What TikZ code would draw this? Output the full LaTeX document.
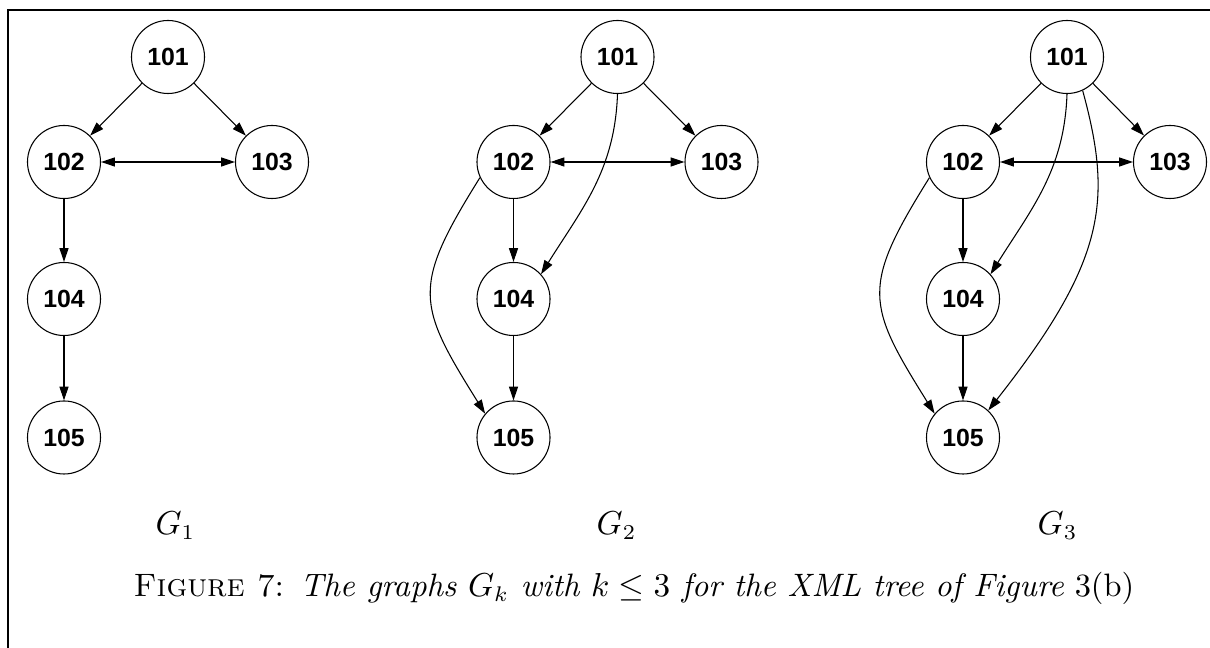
\documentclass[tikz,border=0pt]{standalone}
\usepackage{fontspec}
\newfontfamily\nodefont{Liberation Sans}
\usetikzlibrary{arrows.meta}
\tikzset{
  nd/.style={circle, draw, line width=0.35pt, minimum size=24.1pt, inner sep=0pt,
    font=\nodefont\bfseries\fontsize{8.2}{9}\selectfont},
  ed/.style={-{Triangle[length=4.6pt,width=3pt]}, line width=0.35pt},
  bi/.style={{Triangle[length=4.6pt,width=3pt]}-{Triangle[length=4.6pt,width=3pt]}, line width=0.35pt},
  glabel/.style={anchor=base, inner sep=0pt, font=\fontsize{10.7}{13}\selectfont},
}
\begin{document}
\begin{tikzpicture}[x=0.33pt, y=0.33pt]
\useasboundingbox (0,0) rectangle (1210,648);
\clip (0,0) rectangle (1210,648);
% frame
\draw[line width=0.66pt] (1230,638) -- (8,638) -- (8,-20);
% G1
\node[nd] (a1) at (168,591) {101};
\node[nd] (a2) at (64,486) {102};
\node[nd] (a3) at (272,486) {103};
\node[nd] (a4) at (64,349) {104};
\node[nd] (a5) at (64,210.5) {105};
\draw[ed] (a1) -- (a2);
\draw[ed] (a1) -- (a3);
\draw[bi] (a2) -- (a3);
\draw[ed] (a2) -- (a4);
\draw[ed] (a4) -- (a5);
% G2
\node[nd] (b1) at (617.5,591) {101};
\node[nd] (b2) at (513.5,486) {102};
\node[nd] (b3) at (721.5,486) {103};
\node[nd] (b4) at (513.5,349) {104};
\node[nd] (b5) at (513.5,210.5) {105};
\draw[ed] (b1) -- (b2);
\draw[ed] (b1) -- (b3);
\draw[bi] (b2) -- (b3);
\draw[ed] (b2) -- (b4);
\draw[ed] (b4) -- (b5);
\draw[ed] (b1.270) to[out=268, in=58] (b4.42);
\draw[ed] (b2.205) to[out=238, in=122, looseness=1.4] (b5.140);
% G3
\node[nd] (c1) at (1067,591) {101};
\node[nd] (c2) at (963,486) {102};
\node[nd] (c3) at (1170,486) {103};
\node[nd] (c4) at (963,349) {104};
\node[nd] (c5) at (963,210.5) {105};
\draw[ed] (c1) -- (c2);
\draw[ed] (c1) -- (c3);
\draw[bi] (c2) -- (c3);
\draw[ed] (c2) -- (c4);
\draw[ed] (c4) -- (c5);
\draw[ed] (c1.270) to[out=268, in=58] (c4.42);
\draw[ed] (c2.205) to[out=238, in=122, looseness=1.4] (c5.140);
\draw[ed] (c1.295) .. controls +(30,-110) and +(118,150) .. (c5.47);
% labels
\node[glabel] (g1) at (175.5,113) {$G_1$};
\node[glabel] (g2) at (616.5,113) {$G_2$};
\node[glabel] (g3) at (1057.5,113) {$G_3$};
\node[anchor=base west, inner sep=0pt, font=\fontsize{10.7}{13}\selectfont] (cap) at (133,51)
  {\textsc{Figure 7}:\enspace\textit{The graphs $G_k$ with $k \leq 3$ for the XML tree of Figure} 3(b)};
\end{tikzpicture}
\end{document}
